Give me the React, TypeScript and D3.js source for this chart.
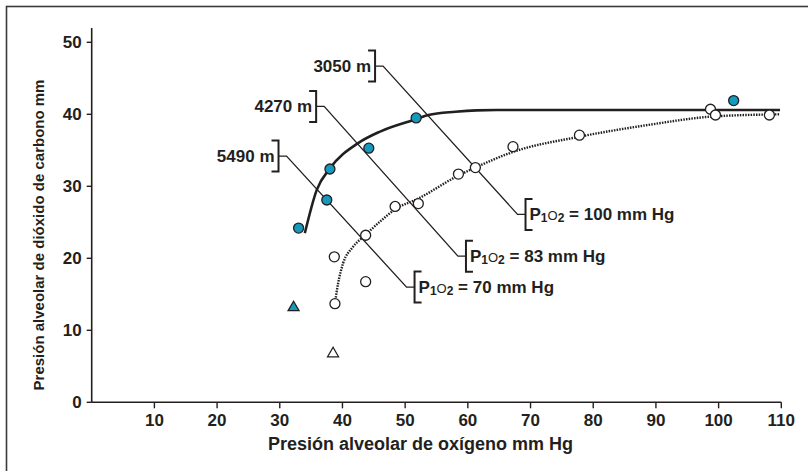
import React from "react";
import * as d3 from "d3";

// ---- data ----
const xTicks = [10, 20, 30, 40, 50, 60, 70, 80, 90, 100, 110];
const yTicks = [0, 10, 20, 30, 40, 50];

const filledX = [33.0, 37.5, 38.0, 44.2, 51.75, 102.4];
const filledY = [24.2, 28.1, 32.4, 35.3, 39.5, 41.9];

const openX = [38.8, 38.7, 43.7, 43.7, 48.4, 52.1, 58.5, 61.2, 67.2, 77.8, 98.7, 99.5, 108.1];
const openY = [13.7, 20.2, 16.75, 23.2, 27.2, 27.6, 31.7, 32.6, 35.5, 37.1, 40.7, 39.9, 39.9];

const triX = [32.2, 38.5];
const triY = [13.3, 6.9];
const triFilled = [true, false];

const solidCurveX = [34.0, 35.9, 38.0, 42.5, 46.0, 51.3, 53.7, 58.0, 61.4, 64.6, 109.8];
const solidCurveY = [23.5, 29.5, 32.5, 36.0, 37.6, 39.2, 39.9, 40.35, 40.55, 40.6, 40.6];

const dottedCurveX = [38.8, 39.3, 40.1, 41.6, 43.6, 46.0, 48.4, 52.1, 58.5, 61.2, 67.3, 77.9, 88.6, 99.2, 109.8];
const dottedCurveY = [13.8, 16.5, 19.3, 21.5, 23.2, 25.1, 26.8, 28.3, 31.5, 32.6, 34.8, 36.9, 38.5, 39.7, 40.0];

const altitudeLabels = ["3050 m", "4270 m", "5490 m"];
const pressureLabels = ["100", "83", "70"];
const annTopX = [45.2, 35.8, 29.8];
const annTopY = [46.7, 41.1, 34.2];
const annBottomX = [69.2, 59.7, 51.5];
const annBottomY = [26.1, 20.3, 16.0];

const xTitle = "Presión alveolar de oxígeno mm Hg";
const yTitle = "Presión alveolar de dióxido de carbono mm";

// ---- layout ----
const W = 808;
const H = 471;
const INK = "#231f20";
const TEAL = "#1599bd";
const FONT = "'Liberation Sans', Arial, Helvetica, sans-serif";

export default function App() {
  const x = d3.scaleLinear().domain([0, 110]).range([91.7, 781.3]);
  const y = d3.scaleLinear().domain([0, 50]).range([402.3, 42.3]);

  const solidLine = d3
    .line<number>()
    .x((_, i) => x(solidCurveX[i]))
    .y((d) => y(d))
    .curve(d3.curveMonotoneX)(solidCurveY) as string;

  const dottedLine = d3
    .line<number>()
    .x((_, i) => x(dottedCurveX[i]))
    .y((d) => y(d))
    .curve(d3.curveMonotoneX)(dottedCurveY) as string;

  const tri = d3.symbol().type(d3.symbolTriangle).size(52)() as string;

  return (
    <svg
      width={W}
      height={H}
      style={{ position: "absolute", left: 0, top: 0, background: "#fff" }}
      fontFamily={FONT}
      fontWeight="bold"
      fill={INK}
    >
      <rect x={6.5} y={6.5} width={W + 10} height={H + 10} fill="#fff" stroke="#3a3a3a" strokeWidth={1.6} />

      {/* axes */}
      <line x1={x(0)} x2={x(110)} y1={y(0)} y2={y(0)} stroke={INK} strokeWidth={1.6} />
      <line x1={x(0)} x2={x(0)} y1={y(0)} y2={y(52)} stroke={INK} strokeWidth={1.6} />
      {xTicks.map((t) => (
        <g key={"xt" + t}>
          <line x1={x(t)} x2={x(t)} y1={y(0)} y2={y(0) + 6} stroke={INK} strokeWidth={1.4} />
          <text x={x(t)} y={y(0) + 24} textAnchor="middle" fontSize={17}>
            {t}
          </text>
        </g>
      ))}
      {yTicks.map((t) => (
        <g key={"yt" + t}>
          <line x1={x(0) - 5} x2={x(0)} y1={y(t)} y2={y(t)} stroke={INK} strokeWidth={1.4} />
          <text x={x(0) - 10} y={y(t) + 6} textAnchor="end" fontSize={17}>
            {t}
          </text>
        </g>
      ))}

      <text x={420.5} y={450} textAnchor="middle" fontSize={18}>
        {xTitle}
      </text>
      <text transform={`translate(43.5,235) rotate(-90)`} textAnchor="middle" fontSize={15}>
        {yTitle}
      </text>

      {/* annotations */}
      {altitudeLabels.map((lab, i) => {
        const tx = x(annTopX[i]);
        const ty = y(annTopY[i]);
        const bx = x(annBottomX[i]);
        const by = y(annBottomY[i]);
        return (
          <g key={"ann" + i}>
            <path
              d={`M${tx},${ty}H${tx + 8}L${bx - 8},${by}H${bx}`}
              fill="none"
              stroke={INK}
              strokeWidth={1.3}
            />
            <path
              d={`M${tx - 7},${ty - 15.5}H${tx}V${ty + 15.5}H${tx - 7}`}
              fill="none"
              stroke={INK}
              strokeWidth={2}
            />
            <path
              d={`M${bx + 7},${by - 15.5}H${bx}V${by + 15.5}H${bx + 7}`}
              fill="none"
              stroke={INK}
              strokeWidth={2}
            />
            <text x={tx - 4} y={ty + 5.5} textAnchor="end" fontSize={17}>
              {lab}
            </text>
            <text x={bx + 4} y={by + 5.5} fontSize={17}>
              P
              <tspan fontSize={12} dy={2.5}>1</tspan>
              <tspan fontSize={13} dy={-2.5} fontWeight="normal">O</tspan>
              <tspan fontSize={12} dy={2.5}>2</tspan>
              <tspan dy={-2.5}>{` = ${pressureLabels[i]} mm Hg`}</tspan>
            </text>
          </g>
        );
      })}

      {/* curves */}
      <path d={solidLine} fill="none" stroke={INK} strokeWidth={2.6} />
      <path d={dottedLine} fill="none" stroke={INK} strokeWidth={2.4} strokeDasharray="1.5,1.2" />

      {/* markers */}
      {openX.map((v, i) => (
        <circle key={"o" + i} cx={x(v)} cy={y(openY[i])} r={5} fill="#fff" stroke={INK} strokeWidth={1.3} />
      ))}
      {filledX.map((v, i) => (
        <circle key={"f" + i} cx={x(v)} cy={y(filledY[i])} r={5} fill={TEAL} stroke={INK} strokeWidth={1.3} />
      ))}
      {triX.map((v, i) => (
        <path
          key={"t" + i}
          d={tri}
          transform={`translate(${x(v)},${y(triY[i]) + 1})`}
          fill={triFilled[i] ? TEAL : "#fff"}
          stroke={INK}
          strokeWidth={1.3}
        />
      ))}
    </svg>
  );
}
